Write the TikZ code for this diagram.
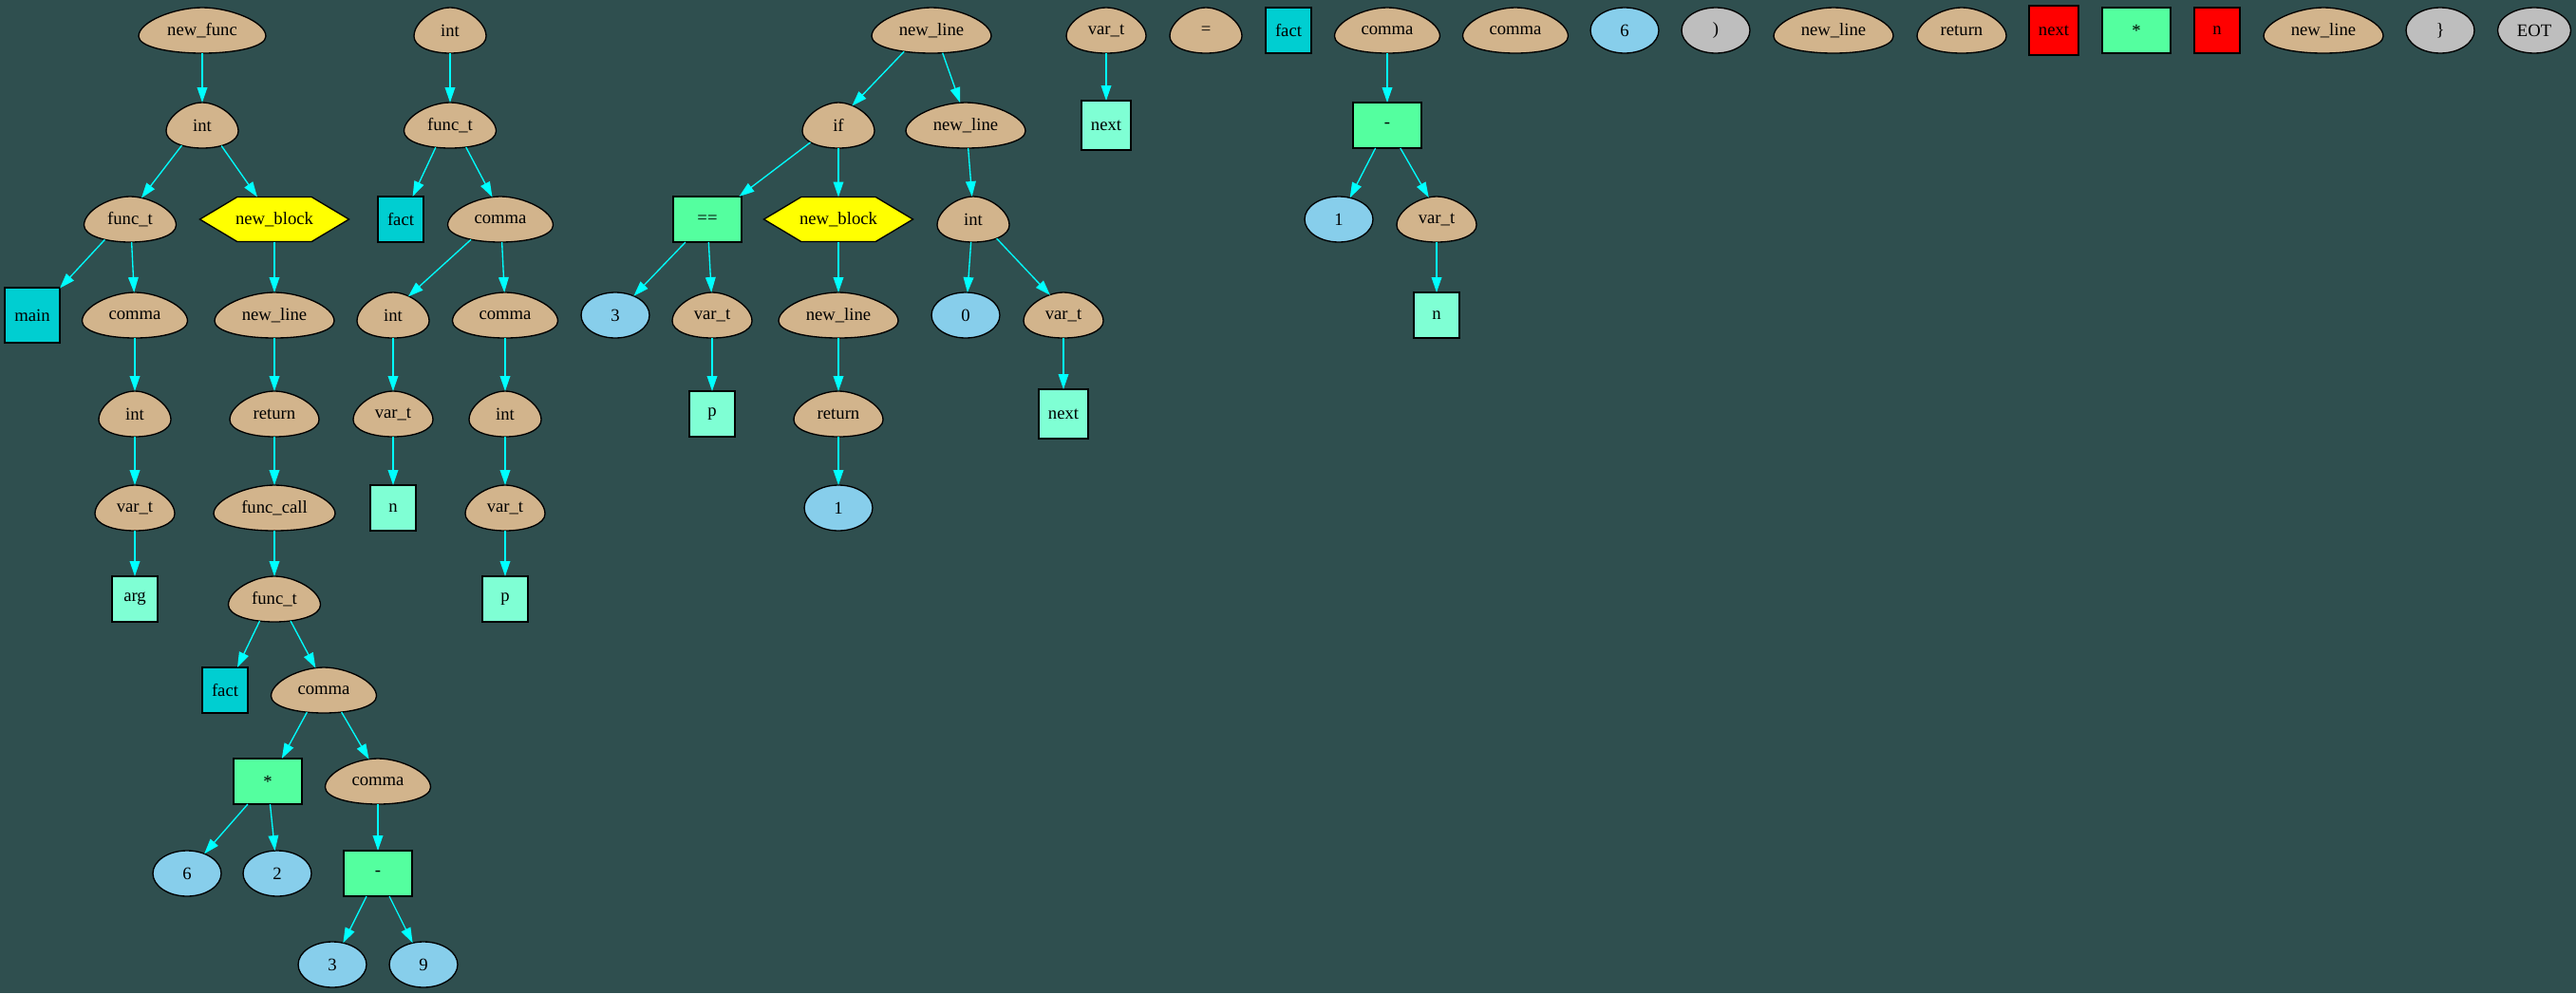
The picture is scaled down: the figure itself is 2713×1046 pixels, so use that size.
\documentclass[tikz,border=0pt]{standalone}
\usepackage{fontspec}
\setmainfont{Liberation Serif}
\usetikzlibrary{arrows.meta,shapes.geometric}
\definecolor{bgc}{HTML}{2F4F4F}
\definecolor{tanc}{HTML}{D2B48C}
\definecolor{skyc}{HTML}{87CEEB}
\definecolor{aquac}{HTML}{7FFFD4}
\definecolor{dturq}{HTML}{00CED1}
\definecolor{opgreen}{HTML}{54FF9F}
\definecolor{grayc}{HTML}{BEBEBE}
\definecolor{redc}{HTML}{FF0000}
\definecolor{yelc}{HTML}{FFFF00}
\definecolor{edgec}{HTML}{00FFFF}
\makeatletter
\newdimen\eggrx \newdimen\eggry \newdimen\eggcx \newdimen\eggcy
\newdimen\eggdx \newdimen\eggdy \newdimen\hexa \newdimen\hexb
\def\eggpt#1#2{\pgfpoint{\eggcx+(#1)*\eggrx}{\eggcy+(#2)*\eggry}}
\pgfdeclareshape{egg}{%
  \savedanchor\eggcenter{%
    \pgf@x=.5\wd\pgfnodeparttextbox
    \pgf@y=.5\ht\pgfnodeparttextbox
    \advance\pgf@y by-.5\dp\pgfnodeparttextbox}%
  \savedanchor\egghalf{%
    \pgfmathsetlength\pgf@x{\pgfkeysvalueof{/pgf/minimum width}}%
    \pgfmathsetlength\pgf@y{\pgfkeysvalueof{/pgf/minimum height}}%
    \pgf@x=.5\pgf@x \pgf@y=.5\pgf@y}%
  \anchor{center}{\eggcenter}%
  \anchor{north}{\pgf@process{\egghalf}\eggdy=\pgf@y\eggcenter\advance\pgf@y by\eggdy}%
  \anchor{south}{\pgf@process{\egghalf}\eggdy=\pgf@y\eggcenter\advance\pgf@y by-\eggdy}%
  \backgroundpath{%
    \pgf@process{\egghalf}%
    \eggrx=\pgf@x \eggry=\pgf@y
    \pgf@process{\eggcenter}%
    \eggcx=\pgf@x \eggcy=\pgf@y
    \pgfpathmoveto{\eggpt{0}{1}}%
    \pgfpathcurveto{\eggpt{-0.442}{1}}{\eggpt{-1}{0.376}}{\eggpt{-1}{-0.2588}}%
    \pgfpathcurveto{\eggpt{-1}{-0.696}}{\eggpt{-0.565}{-1}}{\eggpt{0}{-1}}%
    \pgfpathcurveto{\eggpt{0.565}{-1}}{\eggpt{1}{-0.696}}{\eggpt{1}{-0.2588}}%
    \pgfpathcurveto{\eggpt{1}{0.376}}{\eggpt{0.442}{1}}{\eggpt{0}{1}}%
    \pgfpathclose
  }%
  \anchorborder{%
    \eggdx=\pgf@x \eggdy=\pgf@y
    \pgfpointborderellipse{\pgfqpoint{\eggdx}{\eggdy}}{\egghalf}%
    \eggdx=\pgf@x \eggdy=\pgf@y
    \pgf@process{\egghalf}%
    \eggry=\pgf@y
    \pgfmathsetmacro\eggfac{(1-0.3*\eggdy/\eggry)/1.041}%
    \eggdx=\eggfac\eggdx
    \pgf@process{\eggcenter}%
    \advance\pgf@x by\eggdx
    \advance\pgf@y by\eggdy
  }%
}
\pgfdeclareshape{ghex}{%
  \savedanchor\hexcenter{%
    \pgf@x=.5\wd\pgfnodeparttextbox
    \pgf@y=.5\ht\pgfnodeparttextbox
    \advance\pgf@y by-.5\dp\pgfnodeparttextbox}%
  \savedanchor\hexhalf{%
    \pgfmathsetlength\pgf@x{\pgfkeysvalueof{/pgf/minimum width}}%
    \pgfmathsetlength\pgf@y{\pgfkeysvalueof{/pgf/minimum height}}%
    \pgf@x=.5\pgf@x \pgf@y=.5\pgf@y}%
  \anchor{center}{\hexcenter}%
  \anchorborder{%
    \eggdx=\pgf@x \eggdy=\pgf@y
    \pgfpointborderrectangle{\pgfqpoint{\eggdx}{\eggdy}}{\hexhalf}%
    \eggdx=\pgf@x \eggdy=\pgf@y
    \pgf@process{\hexcenter}%
    \advance\pgf@x by\eggdx
    \advance\pgf@y by\eggdy
  }%
  \backgroundpath{%
    \pgf@process{\hexhalf}\hexa=\pgf@x \hexb=\pgf@y
    \pgf@process{\hexcenter}\eggcx=\pgf@x \eggcy=\pgf@y
    \pgfpathmoveto{\pgfpoint{\eggcx-\hexa}{\eggcy}}%
    \pgfpathlineto{\pgfpoint{\eggcx-0.5*\hexa}{\eggcy+\hexb}}%
    \pgfpathlineto{\pgfpoint{\eggcx+0.5*\hexa}{\eggcy+\hexb}}%
    \pgfpathlineto{\pgfpoint{\eggcx+\hexa}{\eggcy}}%
    \pgfpathlineto{\pgfpoint{\eggcx+0.5*\hexa}{\eggcy-\hexb}}%
    \pgfpathlineto{\pgfpoint{\eggcx-0.5*\hexa}{\eggcy-\hexb}}%
    \pgfpathclose
  }%
}
\makeatother
\tikzset{
  every node/.style={font=\fontsize{14}{16}\selectfont, inner sep=0pt, outer sep=0pt, line width=1pt, draw=black},
  eggn/.style={shape=egg, fill=tanc, minimum height=36pt, minimum width=#1},
  hexn/.style={shape=ghex, fill=yelc, minimum width=117.75pt, minimum height=35.25pt},
  numel/.style={shape=ellipse, fill=skyc, minimum width=54pt, minimum height=36pt},
  grayel/.style={shape=ellipse, fill=grayc, minimum width=54pt, minimum height=36pt},
  idsq/.style={shape=rectangle, fill=aquac, minimum size=36pt},
  fnsq/.style={shape=rectangle, fill=dturq, minimum size=36pt},
  redsq/.style={shape=rectangle, fill=redc, minimum size=36pt},
  opbox/.style={shape=rectangle, fill=opgreen, minimum width=54pt, minimum height=36pt},
  edge/.style={draw=edgec, line width=1pt, -{Triangle[length=12pt,width=8pt]}}
}
\begin{document}
\begin{tikzpicture}[x=0.75pt,y=-0.75pt]
\fill[bgc] (0,0) rectangle (2713,1046);
\useasboundingbox (0,0) rectangle (2713,1046);
% tree 1
\node[eggn=100.5pt] (a1) at (213,32) {new\_func};
\node[eggn=57pt] (a2) at (213,132) {int};
\node[eggn=72.75pt] (a3) at (137,231) {func\_t};
\node[hexn] (a4) at (289,231) {new\_block};
\node[fnsq, minimum size=43.5pt] (a5) at (34,332) {main};
\node[eggn=83.25pt] (a6) at (142,332) {comma};
\node[eggn=94.5pt] (a7) at (289,332) {new\_line};
\node[eggn=57pt] (a8) at (142,436) {int};
\node[eggn=70.5pt] (a9) at (289,436) {return};
\node[eggn=63pt] (a10) at (142,535) {var\_t};
\node[eggn=96pt] (a11) at (289,535) {func\_call};
\node[idsq] (a12) at (142,631) {arg};
\node[eggn=72.75pt] (a13) at (289,631) {func\_t};
\node[fnsq] (a14) at (237,727) {fact};
\node[eggn=83.25pt] (a15) at (341,727) {comma};
\node[opbox] (a16) at (282,823) {*};
\node[eggn=83.25pt] (a17) at (398,823) {comma};
\node[numel] (a18) at (197,920) {6};
\node[numel] (a19) at (292,920) {2};
\node[opbox] (a20) at (398,920) {-};
\node[numel] (a21) at (350,1016) {3};
\node[numel] (a22) at (446,1016) {9};
% tree 2
\node[eggn=57pt] (b1) at (474,32) {int};
\node[eggn=72.75pt] (b2) at (474,132) {func\_t};
\node[fnsq] (b3) at (422,231) {fact};
\node[eggn=83.25pt] (b4) at (527,231) {comma};
\node[eggn=57pt] (b5) at (414,332) {int};
\node[eggn=83.25pt] (b6) at (532,332) {comma};
\node[eggn=63pt] (b7) at (414,436) {var\_t};
\node[eggn=57pt] (b8) at (532,436) {int};
\node[idsq] (b9) at (414,535) {n};
\node[eggn=63pt] (b10) at (532,535) {var\_t};
\node[idsq] (b11) at (532,631) {p};
% tree 3
\node[eggn=94.5pt] (c1) at (981,32) {new\_line};
\node[eggn=57pt] (c2) at (883,132) {if};
\node[eggn=94.5pt] (c3) at (1017,132) {new\_line};
\node[opbox] (c4) at (745,231) {==};
\node[hexn] (c5) at (883,231) {new\_block};
\node[eggn=57pt] (c6) at (1025,231) {int};
\node[numel] (c7) at (648,332) {3};
\node[eggn=63pt] (c8) at (750,332) {var\_t};
\node[eggn=94.5pt] (c9) at (883,332) {new\_line};
\node[numel] (c10) at (1017,332) {0};
\node[eggn=63pt] (c11) at (1120,332) {var\_t};
\node[idsq] (c12) at (750,436) {p};
\node[eggn=70.5pt] (c13) at (883,436) {return};
\node[idsq, minimum size=39pt] (c14) at (1120,436) {next};
\node[numel] (c15) at (883,535) {1};
% tree 4
\node[eggn=63pt] (d1) at (1165,32) {var\_t};
\node[idsq, minimum size=39pt] (d2) at (1165,132) {next};
% singles and tree 5
\node[eggn=57pt] (e1) at (1270,32) {=};
\node[fnsq] (e2) at (1357,32) {fact};
\node[eggn=83.25pt] (f1) at (1461,32) {comma};
\node[opbox] (f2) at (1461,132) {-};
\node[numel] (f3) at (1410,231) {1};
\node[eggn=63pt] (f4) at (1513,231) {var\_t};
\node[idsq] (f5) at (1513,332) {n};
\node[eggn=83.25pt] (g1) at (1596,32) {comma};
\node[numel] (g2) at (1711,32) {6};
\node[grayel] (g3) at (1807,32) {)};
\node[eggn=94.5pt] (g4) at (1931,32) {new\_line};
\node[eggn=70.5pt] (g5) at (2066,32) {return};
\node[redsq, minimum size=39pt] (g6) at (2163,32) {next};
\node[opbox] (g7) at (2250,32) {*};
\node[redsq] (g8) at (2335,32) {n};
\node[eggn=94.5pt] (g9) at (2447,32) {new\_line};
\node[grayel] (g10) at (2570,32) {\}};
\node[grayel, minimum width=57.75pt] (g11) at (2669,32) {EOT};
% edges
\foreach \u/\v in {a1/a2,a2/a3,a2/a4,a3/a5,a3/a6,a6/a8,a8/a10,a10/a12,a4/a7,a7/a9,a9/a11,a11/a13,a13/a14,a13/a15,a15/a16,a15/a17,a16/a18,a16/a19,a17/a20,a20/a21,a20/a22,
  b1/b2,b2/b3,b2/b4,b4/b5,b4/b6,b5/b7,b7/b9,b6/b8,b8/b10,b10/b11,
  c1/c2,c1/c3,c2/c4,c2/c5,c4/c7,c4/c8,c8/c12,c5/c9,c9/c13,c13/c15,c3/c6,c6/c10,c6/c11,c11/c14,
  d1/d2,f1/f2,f2/f3,f2/f4,f4/f5}
  \draw[edge] (\u) -- (\v);
\end{tikzpicture}
\end{document}
